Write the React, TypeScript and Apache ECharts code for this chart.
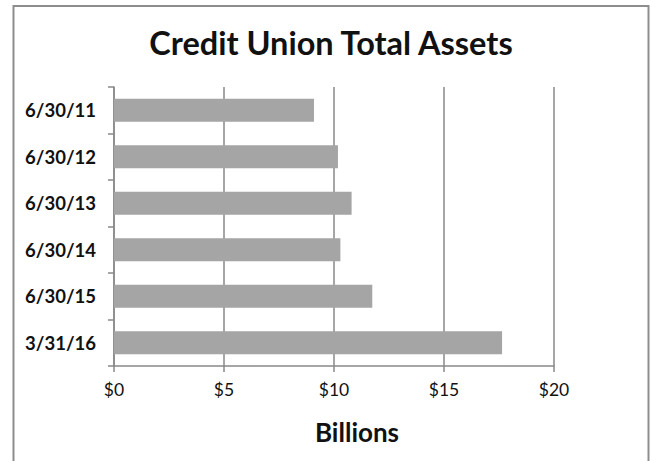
import React, { useEffect, useRef } from "react";
import * as echarts from "echarts";

const categories = ["6/30/11", "6/30/12", "6/30/13", "6/30/14", "6/30/15", "3/31/16"];
const assets = [9.09, 10.18, 10.8, 10.29, 11.74, 17.64];
const xTicks = { min: 0, max: 20, interval: 5 };
const titleText = "Credit Union Total Assets";
const axisTitle = "Billions";

const FONT = "Lato, 'Open Sans', sans-serif";

export default function App() {
  const ref = useRef<HTMLDivElement>(null);
  useEffect(() => {
    if (!ref.current) return;
    const chart = echarts.init(ref.current, undefined, { renderer: "svg" });
    chart.setOption({
      animation: false,
      backgroundColor: "#ffffff",
      grid: { left: 114, right: 97, top: 87, bottom: 95, containLabel: false },
      xAxis: {
        type: "value",
        min: xTicks.min,
        max: xTicks.max,
        interval: xTicks.interval,
        axisLine: { show: true, lineStyle: { color: "#888888", width: 1.5 } },
        axisTick: { show: true, length: 6, lineStyle: { color: "#888888", width: 1.5 } },
        splitLine: { show: true, lineStyle: { color: "#888888", width: 1.5 } },
        axisLabel: {
          formatter: (v: number) => "$" + v,
          fontFamily: FONT,
          fontSize: 17.5,
          color: "#111111",
          margin: 14,
        },
      },
      yAxis: {
        type: "category",
        inverse: true,
        data: categories,
        axisLine: { show: true, lineStyle: { color: "#888888", width: 1.5 } },
        axisTick: { show: true, length: 6, lineStyle: { color: "#888888", width: 1.5 } },
        splitLine: { show: false },
        axisLabel: {
          fontFamily: FONT,
          fontWeight: "bold",
          fontSize: 18.5,
          color: "#111111",
          margin: 18,
        },
      },
      series: [
        {
          type: "bar",
          data: assets,
          barWidth: 23,
          itemStyle: { color: "#a5a5a5" },
        },
      ],
      graphic: [
        {
          type: "rect",
          shape: { x: 13.5, y: 6, width: 635, height: 520 },
          style: { fill: "none", stroke: "#8d8d8d", lineWidth: 2 },
          silent: true,
        },
        {
          type: "text",
          x: 331,
          y: 42,
          style: {
            text: titleText,
            font: "bold 32.5px " + FONT,
            fill: "#111111",
            textAlign: "center",
            textVerticalAlign: "middle",
          },
        },
        {
          type: "text",
          x: 357,
          y: 432,
          style: {
            text: axisTitle,
            font: "bold 26px " + FONT,
            fill: "#111111",
            textAlign: "center",
            textVerticalAlign: "middle",
          },
        },
      ],
    });
    return () => chart.dispose();
  }, []);
  return (
    <div
      ref={ref}
      style={{ position: "absolute", left: 0, top: 0, width: 651, height: 461 }}
    />
  );
}
